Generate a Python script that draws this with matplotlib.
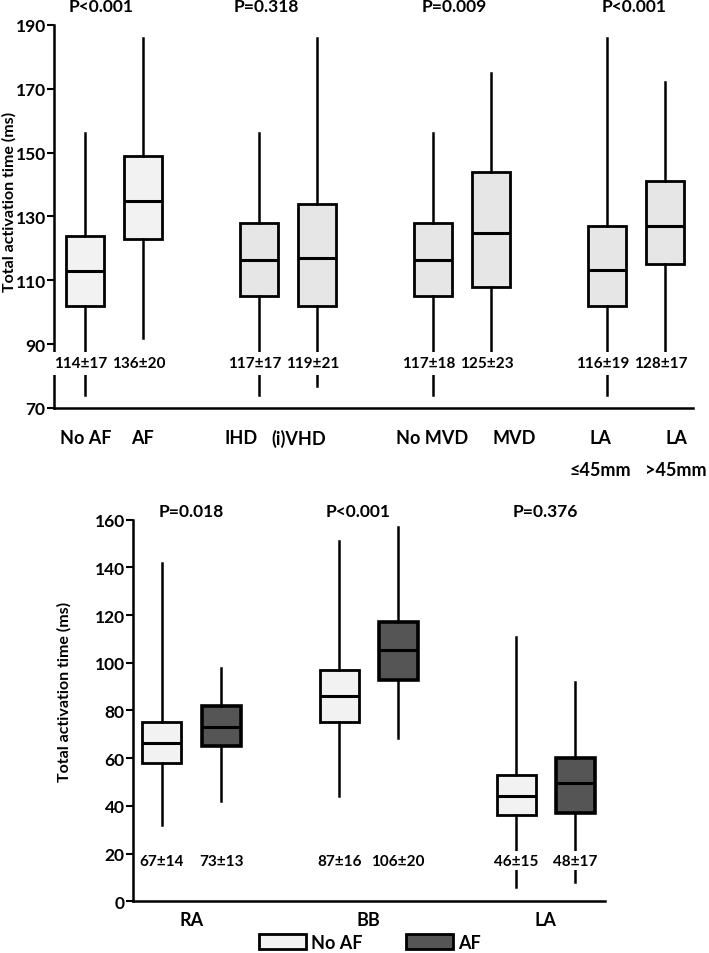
import matplotlib
matplotlib.use("Agg")
import matplotlib.pyplot as plt
from matplotlib.patches import Patch

plt.rcParams['font.family'] = ['Lato', 'DejaVu Sans']
plt.rcParams['font.weight'] = 'bold'
plt.rcParams['axes.labelweight'] = 'bold'

# ---------------- data: top panel ----------------
top_groups = ["No AF", "AF", "IHD", "(i)VHD", "No MVD", "MVD", "LA\n≤45mm", "LA\n>45mm"]
top_whislo = [74, 92, 74, 77, 74, 88, 74, 88]
top_q1 = [102, 123, 105, 102, 105, 108, 102, 115]
top_med = [113, 134.7, 116.4, 117.1, 116.4, 124.8, 113.3, 127.1]
top_q3 = [124, 149, 128, 134, 128, 144, 127, 141]
top_whishi = [156, 186, 156, 186, 156, 175, 186, 172]
top_means = ["114±17", "136±20", "117±17", "119±21", "117±18", "125±23", "116±19", "128±17"]
top_pvalues = ["P<0.001", "P=0.318", "P=0.009", "P<0.001"]

# ---------------- data: bottom panel ----------------
regions = ["RA", "BB", "LA"]
noaf_whislo = [32, 44.3, 6]
noaf_q1 = [58, 75, 36]
noaf_med = [66.4, 86.2, 44.3]
noaf_q3 = [75, 97, 53]
noaf_whishi = [142, 151, 110.7]
af_whislo = [42, 68.3, 8]
af_q1 = [65.3, 92.8, 37]
af_med = [73.1, 105.5, 49.6]
af_q3 = [81.8, 117.2, 60.2]
af_whishi = [98, 157, 92]
noaf_means = ["67±14", "87±16", "46±15"]
af_means = ["73±13", "106±20", "48±17"]
bottom_pvalues = ["P=0.018", "P<0.001", "P=0.376"]
legend_labels = ["No AF", "AF"]

# ---------------- styling ----------------
LIGHT = "#f2f2f2"
MID = "#e6e6e6"
DARK = "#555555"

fig = plt.figure(figsize=(7.09, 9.54), dpi=100)


def make_stats(lo, q1, med, q3, hi):
    return [dict(whislo=a, q1=b, med=c, q3=d, whishi=e) for a, b, c, d, e in zip(lo, q1, med, q3, hi)]


def draw(ax, stats, positions, colors, edge_lw):
    for s, p, c, lw in zip(stats, positions, colors, edge_lw):
        ax.bxp([s], positions=[p], widths=0.66, showcaps=False, showfliers=False,
               patch_artist=True,
               boxprops=dict(facecolor=c, edgecolor='black', linewidth=lw),
               medianprops=dict(color='black', linewidth=2.2),
               whiskerprops=dict(color='black', linewidth=1.8))


def style_axes(ax):
    for sp in ['top', 'right']:
        ax.spines[sp].set_visible(False)
    ax.spines['left'].set_linewidth(1.8)
    ax.spines['bottom'].set_linewidth(1.8)
    ax.tick_params(axis='y', direction='out', length=5, width=1.5, labelsize=12.5, pad=1)
    ax.tick_params(axis='x', length=0)


# ---------------- top panel ----------------
ax1 = fig.add_axes([0.0762, 0.5713, 0.9013, 0.4015])
top_pos = [0, 1, 3, 4, 6, 7, 9, 10]
top_colors = [LIGHT, LIGHT, MID, MID, MID, MID, MID, MID]
draw(ax1, make_stats(top_whislo, top_q1, top_med, top_q3, top_whishi), top_pos, top_colors, [2.0] * 8)
ax1.set_xlim(-0.53, 10.48)
ax1.set_ylim(70, 190)
ax1.set_yticks(range(70, 191, 20))
style_axes(ax1)
label_shift = [0.02, 0.0, -0.31, -0.31, -0.02, 0.40, -0.12, 0.19]
ax1.set_xticks([p + s for p, s in zip(top_pos, label_shift)])
ax1.set_xticklabels(top_groups, fontsize=13, linespacing=2.1)
ax1.tick_params(axis='x', pad=15)
ax1.set_ylabel("Total activation time (ms)", fontsize=11.5)
ax1.yaxis.set_label_coords(-0.059, 0.54)
for p, t in zip(top_pos, top_means):
    ax1.text(p - 0.07, 84, t, ha='center', va='center', fontsize=11, zorder=5,
             bbox=dict(boxstyle='square,pad=0.3', fc='white', ec='none'))
p_shift = [0.29, 3.12, 6.36, 9.47]
for x, t in zip(p_shift, top_pvalues):
    ax1.text(x, 196, t, ha='center', va='center', fontsize=12.5, clip_on=False)

# ---------------- bottom panel ----------------
ax2 = fig.add_axes([0.1876, 0.0542, 0.6657, 0.40])
centers = [0.5, 3.5, 6.5]
noaf_pos = [c - 0.5 for c in centers]
af_pos = [c + 0.5 for c in centers]
draw(ax2, make_stats(noaf_whislo, noaf_q1, noaf_med, noaf_q3, noaf_whishi), noaf_pos, [LIGHT] * 3, [2.0] * 3)
draw(ax2, make_stats(af_whislo, af_q1, af_med, af_q3, af_whishi), af_pos, [DARK] * 3, [2.6] * 3)
ax2.set_xlim(-0.49, 7.5)
ax2.set_ylim(0, 160)
ax2.set_yticks(range(0, 161, 20))
style_axes(ax2)
ax2.set_xticks(centers)
ax2.set_xticklabels(regions, fontsize=13)
ax2.tick_params(axis='x', pad=7)
ax2.set_ylabel("Total activation time (ms)", fontsize=11.5)
ax2.yaxis.set_label_coords(-0.13, 0.55)
for p, t in zip(noaf_pos, noaf_means):
    ax2.text(p, 17, t, ha='center', va='center', fontsize=11, zorder=5,
             bbox=dict(boxstyle='square,pad=0.15', fc='white', ec='none'))
for p, t in zip(af_pos, af_means):
    ax2.text(p, 17, t, ha='center', va='center', fontsize=11, zorder=5,
             bbox=dict(boxstyle='square,pad=0.15', fc='white', ec='none'))
for x, t in zip([0.49, 3.32, 6.49], bottom_pvalues):
    ax2.text(x, 163.5, t, ha='center', va='center', fontsize=12.5, clip_on=False)

handles = [Patch(facecolor=LIGHT, edgecolor='black', linewidth=2.0),
           Patch(facecolor=DARK, edgecolor='black', linewidth=2.0)]
fig.legend(handles, legend_labels, ncol=2, loc='center', bbox_to_anchor=(0.522, 0.0115),
           frameon=False, handlelength=2.6, handleheight=0.9, handletextpad=0.3,
           columnspacing=2.4, fontsize=13, borderpad=0)

fig.savefig("out.png", dpi=100)
